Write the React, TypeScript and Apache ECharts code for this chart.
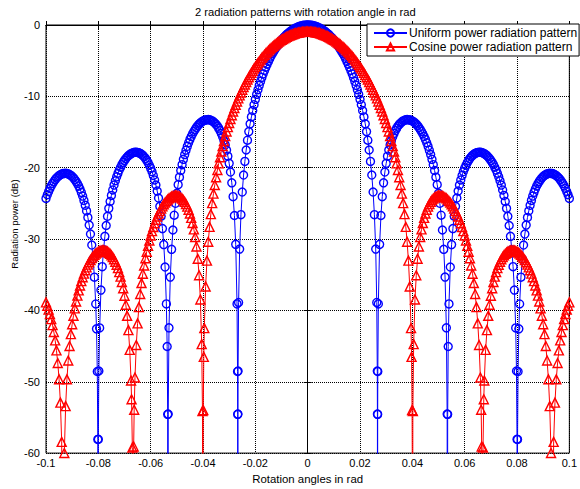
import React, { useEffect, useRef } from "react";
import * as echarts from "echarts";

const chartTitle = "2 radiation patterns with rotation angle in rad";
const xAxisTitle = "Rotation angles in rad";
const yAxisTitle = "Radiation power (dB)";
const seriesNames = ["Uniform power radiation pattern", "Cosine power radiation pattern"];

// [rotation angle (rad), radiation power (dB)]
const uniformPoints: number[][] = [
  [-0.1,-24.3],[-0.0995,-23.79],[-0.099,-23.33],[-0.0985,-22.91],[-0.098,-22.55],[-0.0975,-22.22],[-0.097,-21.93],[-0.0965,-21.68],[-0.096,-21.46],[-0.0955,-21.27],
  [-0.095,-21.11],[-0.0945,-20.99],[-0.094,-20.89],[-0.0935,-20.83],[-0.093,-20.8],[-0.0925,-20.79],[-0.092,-20.82],[-0.0915,-20.87],[-0.091,-20.96],[-0.0905,-21.08],
  [-0.09,-21.23],[-0.0895,-21.42],[-0.089,-21.65],[-0.0885,-21.92],[-0.088,-22.23],[-0.0875,-22.58],[-0.087,-22.99],[-0.0865,-23.45],[-0.086,-23.98],[-0.0855,-24.58],
  [-0.085,-25.27],[-0.0845,-26.06],[-0.084,-26.97],[-0.0835,-28.04],[-0.083,-29.3],[-0.0825,-30.84],[-0.082,-32.77],[-0.0815,-35.34],[-0.081,-39.1],[-0.0807,-42.58],
  [-0.0804,-48.56],[-0.0802,-58.08],[-0.0801,-100],[-0.08,-58.06],[-0.0798,-48.5],[-0.0795,-42.45],[-0.079,-37.15],[-0.0785,-33.87],[-0.078,-31.49],[-0.0775,-29.62],
  [-0.077,-28.1],[-0.0765,-26.81],[-0.076,-25.7],[-0.0755,-24.73],[-0.075,-23.88],[-0.0745,-23.12],[-0.074,-22.44],[-0.0735,-21.83],[-0.073,-21.28],[-0.0725,-20.78],
  [-0.072,-20.33],[-0.0715,-19.93],[-0.071,-19.57],[-0.0705,-19.25],[-0.07,-18.97],[-0.0695,-18.72],[-0.069,-18.5],[-0.0685,-18.31],[-0.068,-18.16],[-0.0675,-18.03],
  [-0.067,-17.94],[-0.0665,-17.87],[-0.066,-17.84],[-0.0655,-17.83],[-0.065,-17.86],[-0.0645,-17.91],[-0.064,-18],[-0.0635,-18.12],[-0.063,-18.27],[-0.0625,-18.47],
  [-0.062,-18.69],[-0.0615,-18.97],[-0.061,-19.28],[-0.0605,-19.65],[-0.06,-20.06],[-0.0595,-20.54],[-0.059,-21.09],[-0.0585,-21.72],[-0.058,-22.44],[-0.0575,-23.28],
  [-0.057,-24.25],[-0.0565,-25.41],[-0.056,-26.8],[-0.0555,-28.53],[-0.055,-30.78],[-0.0545,-33.92],[-0.054,-39.09],[-0.0537,-45.06],[-0.0535,-54.57],[-0.0534,-100],
  [-0.0533,-54.53],[-0.053,-42.44],[-0.0525,-35.33],[-0.052,-31.44],[-0.0515,-28.73],[-0.051,-26.66],[-0.0505,-24.99],[-0.05,-23.58],[-0.0495,-22.38],[-0.049,-21.33],
  [-0.0485,-20.4],[-0.048,-19.57],[-0.0475,-18.83],[-0.047,-18.16],[-0.0465,-17.55],[-0.046,-17],[-0.0455,-16.5],[-0.045,-16.04],[-0.0445,-15.63],[-0.044,-15.26],
  [-0.0435,-14.92],[-0.043,-14.62],[-0.0425,-14.35],[-0.042,-14.11],[-0.0415,-13.9],[-0.041,-13.72],[-0.0405,-13.57],[-0.04,-13.45],[-0.0395,-13.36],[-0.039,-13.3],
  [-0.0385,-13.27],[-0.038,-13.26],[-0.0375,-13.29],[-0.037,-13.35],[-0.0365,-13.44],[-0.036,-13.57],[-0.0355,-13.73],[-0.035,-13.93],[-0.0345,-14.17],[-0.034,-14.46],
  [-0.0335,-14.8],[-0.033,-15.19],[-0.0325,-15.65],[-0.032,-16.19],[-0.0315,-16.81],[-0.031,-17.53],[-0.0305,-18.38],[-0.03,-19.39],[-0.0295,-20.61],[-0.029,-22.12],
  [-0.0285,-24.06],[-0.028,-26.7],[-0.0275,-30.74],[-0.027,-39.09],[-0.0268,-48.56],[-0.02675,-54.57],[-0.0267,-100],[-0.02665,-54.53],[-0.0266,-48.5],[-0.0264,-38.89],
  [-0.026,-31.41],[-0.0255,-26.58],[-0.025,-23.41],[-0.0245,-21.03],[-0.024,-19.12],[-0.0235,-17.52],[-0.023,-16.15],[-0.0225,-14.94],[-0.022,-13.85],[-0.0215,-12.88],
  [-0.021,-11.99],[-0.0205,-11.17],[-0.02,-10.42],[-0.0195,-9.72],[-0.019,-9.07],[-0.0185,-8.46],[-0.018,-7.89],[-0.0175,-7.35],[-0.017,-6.85],[-0.0165,-6.37],
  [-0.016,-5.92],[-0.0155,-5.5],[-0.015,-5.1],[-0.0145,-4.72],[-0.014,-4.36],[-0.0135,-4.02],[-0.013,-3.7],[-0.0125,-3.39],[-0.012,-3.11],[-0.0115,-2.83],
  [-0.011,-2.58],[-0.0105,-2.33],[-0.01,-2.11],[-0.0095,-1.89],[-0.009,-1.69],[-0.0085,-1.5],[-0.008,-1.32],[-0.0075,-1.16],[-0.007,-1.01],[-0.0065,-0.86],
  [-0.006,-0.73],[-0.0055,-0.62],[-0.005,-0.51],[-0.0045,-0.41],[-0.004,-0.32],[-0.0035,-0.25],[-0.003,-0.18],[-0.0025,-0.13],[-0.002,-0.08],[-0.0015,-0.05],
  [-0.001,-0.02],[-0.0005,-0.01],
  [0,0],
  [0.0005,-0.01],[0.001,-0.02],[0.0015,-0.05],[0.002,-0.08],[0.0025,-0.13],[0.003,-0.18],[0.0035,-0.25],[0.004,-0.32],[0.0045,-0.41],[0.005,-0.51],
  [0.0055,-0.62],[0.006,-0.73],[0.0065,-0.86],[0.007,-1.01],[0.0075,-1.16],[0.008,-1.32],[0.0085,-1.5],[0.009,-1.69],[0.0095,-1.89],[0.01,-2.11],
  [0.0105,-2.33],[0.011,-2.58],[0.0115,-2.83],[0.012,-3.11],[0.0125,-3.39],[0.013,-3.7],[0.0135,-4.02],[0.014,-4.36],[0.0145,-4.72],[0.015,-5.1],
  [0.0155,-5.5],[0.016,-5.92],[0.0165,-6.37],[0.017,-6.85],[0.0175,-7.35],[0.018,-7.89],[0.0185,-8.46],[0.019,-9.07],[0.0195,-9.72],[0.02,-10.42],
  [0.0205,-11.17],[0.021,-11.99],[0.0215,-12.88],[0.022,-13.85],[0.0225,-14.94],[0.023,-16.15],[0.0235,-17.52],[0.024,-19.12],[0.0245,-21.03],[0.025,-23.41],
  [0.0255,-26.58],[0.026,-31.41],[0.0264,-38.89],[0.0266,-48.5],[0.02665,-54.53],[0.0267,-100],[0.02675,-54.57],[0.0268,-48.56],[0.027,-39.09],[0.0275,-30.74],
  [0.028,-26.7],[0.0285,-24.06],[0.029,-22.12],[0.0295,-20.61],[0.03,-19.39],[0.0305,-18.38],[0.031,-17.53],[0.0315,-16.81],[0.032,-16.19],[0.0325,-15.65],
  [0.033,-15.19],[0.0335,-14.8],[0.034,-14.46],[0.0345,-14.17],[0.035,-13.93],[0.0355,-13.73],[0.036,-13.57],[0.0365,-13.44],[0.037,-13.35],[0.0375,-13.29],
  [0.038,-13.26],[0.0385,-13.27],[0.039,-13.3],[0.0395,-13.36],[0.04,-13.45],[0.0405,-13.57],[0.041,-13.72],[0.0415,-13.9],[0.042,-14.11],[0.0425,-14.35],
  [0.043,-14.62],[0.0435,-14.92],[0.044,-15.26],[0.0445,-15.63],[0.045,-16.04],[0.0455,-16.5],[0.046,-17],[0.0465,-17.55],[0.047,-18.16],[0.0475,-18.83],
  [0.048,-19.57],[0.0485,-20.4],[0.049,-21.33],[0.0495,-22.38],[0.05,-23.58],[0.0505,-24.99],[0.051,-26.66],[0.0515,-28.73],[0.052,-31.44],[0.0525,-35.33],
  [0.053,-42.44],[0.0533,-54.53],[0.0534,-100],[0.0535,-54.57],[0.0537,-45.06],[0.054,-39.09],[0.0545,-33.92],[0.055,-30.78],[0.0555,-28.53],[0.056,-26.8],
  [0.0565,-25.41],[0.057,-24.25],[0.0575,-23.28],[0.058,-22.44],[0.0585,-21.72],[0.059,-21.09],[0.0595,-20.54],[0.06,-20.06],[0.0605,-19.65],[0.061,-19.28],
  [0.0615,-18.97],[0.062,-18.69],[0.0625,-18.47],[0.063,-18.27],[0.0635,-18.12],[0.064,-18],[0.0645,-17.91],[0.065,-17.86],[0.0655,-17.83],[0.066,-17.84],
  [0.0665,-17.87],[0.067,-17.94],[0.0675,-18.03],[0.068,-18.16],[0.0685,-18.31],[0.069,-18.5],[0.0695,-18.72],[0.07,-18.97],[0.0705,-19.25],[0.071,-19.57],
  [0.0715,-19.93],[0.072,-20.33],[0.0725,-20.78],[0.073,-21.28],[0.0735,-21.83],[0.074,-22.44],[0.0745,-23.12],[0.075,-23.88],[0.0755,-24.73],[0.076,-25.7],
  [0.0765,-26.81],[0.077,-28.1],[0.0775,-29.62],[0.078,-31.49],[0.0785,-33.87],[0.079,-37.15],[0.0795,-42.45],[0.0798,-48.5],[0.08,-58.06],[0.0801,-100],
  [0.0802,-58.08],[0.0804,-48.56],[0.0807,-42.58],[0.081,-39.1],[0.0815,-35.34],[0.082,-32.77],[0.0825,-30.84],[0.083,-29.3],[0.0835,-28.04],[0.084,-26.97],
  [0.0845,-26.06],[0.085,-25.27],[0.0855,-24.58],[0.086,-23.98],[0.0865,-23.45],[0.087,-22.99],[0.0875,-22.58],[0.088,-22.23],[0.0885,-21.92],[0.089,-21.65],
  [0.0895,-21.42],[0.09,-21.23],[0.0905,-21.08],[0.091,-20.96],[0.0915,-20.87],[0.092,-20.82],[0.0925,-20.79],[0.093,-20.8],[0.0935,-20.83],[0.094,-20.89],
  [0.0945,-20.99],[0.095,-21.11],[0.0955,-21.27],[0.096,-21.46],[0.0965,-21.68],[0.097,-21.93],[0.0975,-22.22],[0.098,-22.55],[0.0985,-22.91],[0.099,-23.33],
  [0.0995,-23.79],[0.1,-24.3]
];

const cosinePoints: number[][] = [
  [-0.1,-38.88],[-0.0995,-39.35],[-0.099,-39.89],[-0.0985,-40.51],[-0.098,-41.22],[-0.0975,-42.06],[-0.097,-43.03],[-0.0965,-44.2],[-0.096,-45.6],[-0.0955,-47.37],
  [-0.095,-49.66],[-0.0945,-52.92],[-0.094,-58.42],[-0.09345,-100],[-0.093,-59.98],[-0.0925,-53.41],[-0.092,-49.66],[-0.0915,-47.03],[-0.091,-44.99],[-0.0905,-43.33],
  [-0.09,-41.94],[-0.0895,-40.74],[-0.089,-39.71],[-0.0885,-38.76],[-0.088,-37.93],[-0.0875,-37.19],[-0.087,-36.51],[-0.0865,-35.9],[-0.086,-35.35],[-0.0855,-34.84],
  [-0.085,-34.38],[-0.0845,-33.97],[-0.084,-33.59],[-0.0835,-33.25],[-0.083,-32.94],[-0.0825,-32.67],[-0.082,-32.43],[-0.0815,-32.22],[-0.081,-32.04],[-0.0805,-31.89],
  [-0.08,-31.77],[-0.0795,-31.68],[-0.079,-31.62],[-0.0785,-31.59],[-0.078,-31.59],[-0.0775,-31.62],[-0.077,-31.68],[-0.0765,-31.77],[-0.076,-31.91],[-0.0755,-32.07],
  [-0.075,-32.28],[-0.0745,-32.54],[-0.074,-32.84],[-0.0735,-33.19],[-0.073,-33.6],[-0.0725,-34.07],[-0.072,-34.63],[-0.0715,-35.27],[-0.071,-36.02],[-0.0705,-36.89],
  [-0.07,-37.94],[-0.0695,-39.2],[-0.069,-40.76],[-0.0685,-42.77],[-0.068,-45.53],[-0.0675,-49.82],[-0.0673,-52.45],[-0.067,-59.21],[-0.06675,-100],[-0.0665,-59.08],
  [-0.0663,-53.92],[-0.066,-49.41],[-0.0655,-44.85],[-0.065,-41.82],[-0.0645,-39.54],[-0.064,-37.71],[-0.0635,-36.17],[-0.063,-34.86],[-0.0625,-33.71],[-0.062,-32.69],
  [-0.0615,-31.77],[-0.061,-30.95],[-0.0605,-30.2],[-0.06,-29.51],[-0.0595,-28.89],[-0.059,-28.31],[-0.0585,-27.78],[-0.058,-27.3],[-0.0575,-26.85],[-0.057,-26.44],
  [-0.0565,-26.07],[-0.056,-25.73],[-0.0555,-25.42],[-0.055,-25.13],[-0.0545,-24.88],[-0.054,-24.66],[-0.0535,-24.47],[-0.053,-24.3],[-0.0525,-24.17],[-0.052,-24.06],
  [-0.0515,-23.98],[-0.051,-23.93],[-0.0505,-23.91],[-0.05,-23.92],[-0.0495,-23.97],[-0.049,-24.05],[-0.0485,-24.17],[-0.048,-24.33],[-0.0475,-24.53],[-0.047,-24.78],
  [-0.0465,-25.09],[-0.046,-25.46],[-0.0455,-25.9],[-0.045,-26.41],[-0.0445,-27.03],[-0.044,-27.76],[-0.0435,-28.64],[-0.043,-29.72],[-0.0425,-31.05],[-0.042,-32.76],
  [-0.0415,-35.07],[-0.041,-38.48],[-0.0405,-44.72],[-0.0402,-54.11],[-0.04005,-100],[-0.04,-63.52],[-0.0399,-53.97],[-0.0397,-46.51],[-0.0395,-42.49],[-0.039,-36.64],
  [-0.0385,-33.03],[-0.038,-30.38],[-0.0375,-28.29],[-0.037,-26.5],[-0.0365,-24.97],[-0.036,-23.63],[-0.0355,-22.42],[-0.035,-21.33],[-0.0345,-20.32],[-0.034,-19.4],
  [-0.0335,-18.53],[-0.033,-17.72],[-0.0325,-16.97],[-0.032,-16.25],[-0.0315,-15.57],[-0.031,-14.93],[-0.0305,-14.32],[-0.03,-13.73],[-0.0295,-13.18],[-0.029,-12.64],
  [-0.0285,-12.13],[-0.028,-11.64],[-0.0275,-11.17],[-0.027,-10.72],[-0.0265,-10.28],[-0.026,-9.86],[-0.0255,-9.46],[-0.025,-9.07],[-0.0245,-8.69],[-0.024,-8.33],
  [-0.0235,-7.98],[-0.023,-7.64],[-0.0225,-7.32],[-0.022,-7],[-0.0215,-6.7],[-0.021,-6.41],[-0.0205,-6.12],[-0.02,-5.85],[-0.0195,-5.58],[-0.019,-5.33],
  [-0.0185,-5.08],[-0.018,-4.84],[-0.0175,-4.61],[-0.017,-4.39],[-0.0165,-4.18],[-0.016,-3.97],[-0.0155,-3.78],[-0.015,-3.59],[-0.0145,-3.4],[-0.014,-3.23],
  [-0.0135,-3.06],[-0.013,-2.9],[-0.0125,-2.74],[-0.012,-2.6],[-0.0115,-2.46],[-0.011,-2.32],[-0.0105,-2.19],[-0.01,-2.07],[-0.0095,-1.96],[-0.009,-1.85],
  [-0.0085,-1.75],[-0.008,-1.65],[-0.0075,-1.56],[-0.007,-1.48],[-0.0065,-1.4],[-0.006,-1.33],[-0.0055,-1.26],[-0.005,-1.2],[-0.0045,-1.14],[-0.004,-1.1],
  [-0.0035,-1.05],[-0.003,-1.02],[-0.0025,-0.98],[-0.002,-0.96],[-0.0015,-0.94],[-0.001,-0.92],[-0.0005,-0.92],
  [0,-0.91],
  [0.0005,-0.92],[0.001,-0.92],[0.0015,-0.94],[0.002,-0.96],[0.0025,-0.98],[0.003,-1.02],[0.0035,-1.05],[0.004,-1.1],[0.0045,-1.14],[0.005,-1.2],
  [0.0055,-1.26],[0.006,-1.33],[0.0065,-1.4],[0.007,-1.48],[0.0075,-1.56],[0.008,-1.65],[0.0085,-1.75],[0.009,-1.85],[0.0095,-1.96],[0.01,-2.07],
  [0.0105,-2.19],[0.011,-2.32],[0.0115,-2.46],[0.012,-2.6],[0.0125,-2.74],[0.013,-2.9],[0.0135,-3.06],[0.014,-3.23],[0.0145,-3.4],[0.015,-3.59],
  [0.0155,-3.78],[0.016,-3.97],[0.0165,-4.18],[0.017,-4.39],[0.0175,-4.61],[0.018,-4.84],[0.0185,-5.08],[0.019,-5.33],[0.0195,-5.58],[0.02,-5.85],
  [0.0205,-6.12],[0.021,-6.41],[0.0215,-6.7],[0.022,-7],[0.0225,-7.32],[0.023,-7.64],[0.0235,-7.98],[0.024,-8.33],[0.0245,-8.69],[0.025,-9.07],
  [0.0255,-9.46],[0.026,-9.86],[0.0265,-10.28],[0.027,-10.72],[0.0275,-11.17],[0.028,-11.64],[0.0285,-12.13],[0.029,-12.64],[0.0295,-13.18],[0.03,-13.73],
  [0.0305,-14.32],[0.031,-14.93],[0.0315,-15.57],[0.032,-16.25],[0.0325,-16.97],[0.033,-17.72],[0.0335,-18.53],[0.034,-19.4],[0.0345,-20.32],[0.035,-21.33],
  [0.0355,-22.42],[0.036,-23.63],[0.0365,-24.97],[0.037,-26.5],[0.0375,-28.29],[0.038,-30.38],[0.0385,-33.03],[0.039,-36.64],[0.0395,-42.49],[0.0397,-46.51],
  [0.0399,-53.97],[0.04,-63.52],[0.04005,-100],[0.0402,-54.11],[0.0405,-44.72],[0.041,-38.48],[0.0415,-35.07],[0.042,-32.76],[0.0425,-31.05],[0.043,-29.72],
  [0.0435,-28.64],[0.044,-27.76],[0.0445,-27.03],[0.045,-26.41],[0.0455,-25.9],[0.046,-25.46],[0.0465,-25.09],[0.047,-24.78],[0.0475,-24.53],[0.048,-24.33],
  [0.0485,-24.17],[0.049,-24.05],[0.0495,-23.97],[0.05,-23.92],[0.0505,-23.91],[0.051,-23.93],[0.0515,-23.98],[0.052,-24.06],[0.0525,-24.17],[0.053,-24.3],
  [0.0535,-24.47],[0.054,-24.66],[0.0545,-24.88],[0.055,-25.13],[0.0555,-25.42],[0.056,-25.73],[0.0565,-26.07],[0.057,-26.44],[0.0575,-26.85],[0.058,-27.3],
  [0.0585,-27.78],[0.059,-28.31],[0.0595,-28.89],[0.06,-29.51],[0.0605,-30.2],[0.061,-30.95],[0.0615,-31.77],[0.062,-32.69],[0.0625,-33.71],[0.063,-34.86],
  [0.0635,-36.17],[0.064,-37.71],[0.0645,-39.54],[0.065,-41.82],[0.0655,-44.85],[0.066,-49.41],[0.0663,-53.92],[0.0665,-59.08],[0.06675,-100],[0.067,-59.21],
  [0.0673,-52.45],[0.0675,-49.82],[0.068,-45.53],[0.0685,-42.77],[0.069,-40.76],[0.0695,-39.2],[0.07,-37.94],[0.0705,-36.89],[0.071,-36.02],[0.0715,-35.27],
  [0.072,-34.63],[0.0725,-34.07],[0.073,-33.6],[0.0735,-33.19],[0.074,-32.84],[0.0745,-32.54],[0.075,-32.28],[0.0755,-32.07],[0.076,-31.91],[0.0765,-31.77],
  [0.077,-31.68],[0.0775,-31.62],[0.078,-31.59],[0.0785,-31.59],[0.079,-31.62],[0.0795,-31.68],[0.08,-31.77],[0.0805,-31.89],[0.081,-32.04],[0.0815,-32.22],
  [0.082,-32.43],[0.0825,-32.67],[0.083,-32.94],[0.0835,-33.25],[0.084,-33.59],[0.0845,-33.97],[0.085,-34.38],[0.0855,-34.84],[0.086,-35.35],[0.0865,-35.9],
  [0.087,-36.51],[0.0875,-37.19],[0.088,-37.93],[0.0885,-38.76],[0.089,-39.71],[0.0895,-40.74],[0.09,-41.94],[0.0905,-43.33],[0.091,-44.99],[0.0915,-47.03],
  [0.092,-49.66],[0.0925,-53.41],[0.093,-59.98],[0.09345,-100],[0.094,-58.42],[0.0945,-52.92],[0.095,-49.66],[0.0955,-47.37],[0.096,-45.6],[0.0965,-44.2],
  [0.097,-43.03],[0.0975,-42.06],[0.098,-41.22],[0.0985,-40.51],[0.099,-39.89],[0.0995,-39.35],[0.1,-38.88]
];

const xRange = [-0.1, 0.1];
const xStep = 0.02;
const yRange = [-60, 0];
const yStep = 10;

const FONT = "'Liberation Sans', Arial, sans-serif";

export default function App() {
  const ref = useRef<HTMLDivElement>(null);

  useEffect(() => {
    if (!ref.current) return;
    const chart = echarts.init(ref.current, undefined, { renderer: "svg" });
    const axisLine = { show: true, lineStyle: { color: "#000", width: 1 } };
    const tick = { show: true, inside: true, length: 4, lineStyle: { color: "#000" } };
    const option: any = {
      animation: false,
      backgroundColor: "#fff",
      textStyle: { fontFamily: FONT },
      title: {
        text: chartTitle, left: 195, top: 6, padding: 0,
        textStyle: { fontSize: 11.2, fontWeight: "normal", color: "#000", fontFamily: FONT },
      },
      graphic: [
        {
          type: "text", x: 14, y: 224, rotation: Math.PI / 2, z: 10,
          style: {
            text: yAxisTitle, fontSize: 9.5, fontFamily: FONT, fill: "#000",
            align: "center", verticalAlign: "middle",
            textAlign: "center", textVerticalAlign: "middle",
          },
        },
      ],
      grid: {
        left: 46, right: 3, top: 25, bottom: 34,
        show: true, borderColor: "#000", borderWidth: 1, backgroundColor: "#fff",
      },
      xAxis: [
        {
          type: "value", min: xRange[0], max: xRange[1], interval: xStep, position: "bottom",
          axisLine, axisTick: tick,
          axisLabel: {
            color: "#000", fontSize: 11, fontFamily: FONT, margin: 4,
            formatter: (v: number) => String(Number(v.toFixed(2))),
          },
          splitLine: { show: true, lineStyle: { type: "dotted", color: "#000", width: 1 } },
          name: xAxisTitle, nameLocation: "middle", nameGap: 18,
          nameTextStyle: { color: "#000", fontSize: 11.4, fontFamily: FONT },
        },
        {
          type: "value", min: xRange[0], max: xRange[1], interval: xStep, position: "top",
          axisLine, axisTick: tick, axisLabel: { show: false }, splitLine: { show: false },
        },
      ],
      yAxis: [
        {
          type: "value", min: yRange[0], max: yRange[1], interval: yStep, position: "left",
          axisLine, axisTick: tick,
          axisLabel: { color: "#000", fontSize: 11, fontFamily: FONT, margin: 6 },
          splitLine: { show: true, lineStyle: { type: "dotted", color: "#000", width: 1 } },
        },
        {
          type: "value", min: yRange[0], max: yRange[1], interval: yStep, position: "right",
          axisLine, axisTick: tick, axisLabel: { show: false }, splitLine: { show: false },
        },
      ],
      legend: {
        orient: "vertical", left: 367, top: 24,
        backgroundColor: "#fff", borderColor: "#000", borderWidth: 1,
        padding: [3, 2, 3, 6], itemGap: 2, itemWidth: 33, itemHeight: 9,
        textStyle: { fontSize: 12, color: "#000", fontFamily: FONT, padding: [0, 0, 0, -3] },
        data: seriesNames,
      },
      series: [
        {
          type: "line", name: seriesNames[0], data: uniformPoints,
          xAxisIndex: 0, yAxisIndex: 0, clip: true,
          symbol: "circle", symbolSize: 8, showAllSymbol: true,
          color: "#0000ff",
          lineStyle: { color: "#0000ff", width: 1 },
          itemStyle: { color: "rgba(0,0,0,0)", borderColor: "#0000ff", borderWidth: 1.4 },
          emphasis: { disabled: true },
          z: 2,
        },
        {
          type: "line", name: seriesNames[1], data: cosinePoints,
          xAxisIndex: 0, yAxisIndex: 0, clip: true,
          symbol: "triangle", symbolSize: 9, showAllSymbol: true,
          color: "#ff0000",
          lineStyle: { color: "#ff0000", width: 1 },
          itemStyle: { color: "rgba(0,0,0,0)", borderColor: "#ff0000", borderWidth: 1.4 },
          emphasis: { disabled: true },
          z: 3,
        },
      ],
    };
    chart.setOption(option);
    return () => chart.dispose();
  }, []);

  return (
    <div
      ref={ref}
      style={{ position: "fixed", left: 0, top: 0, width: 580, height: 489, background: "#fff" }}
    />
  );
}
